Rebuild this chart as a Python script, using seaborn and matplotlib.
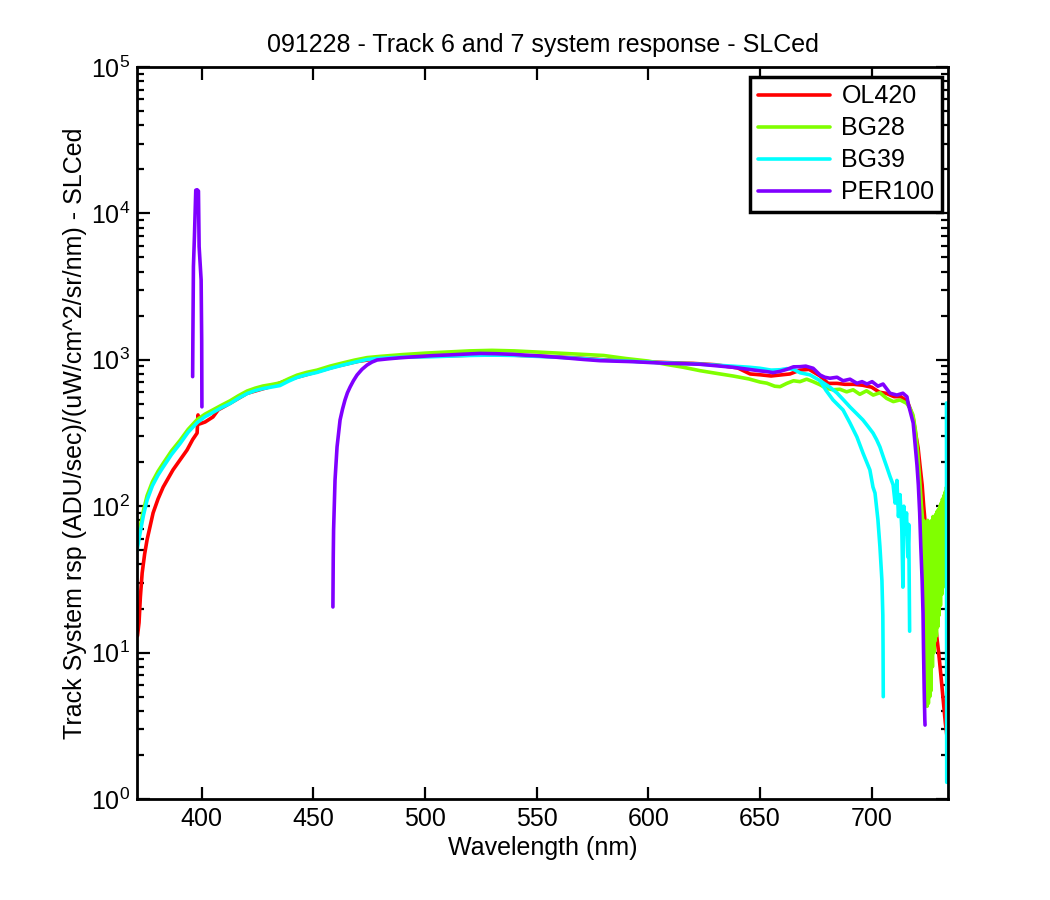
import pandas as pd
import matplotlib
matplotlib.use('Agg')
import matplotlib.pyplot as plt
import seaborn as sns

# values: wavelength (nm) and system response
filters = ['OL420', 'BG28', 'BG39', 'PER100']
colors = ['#ff0000', '#80ff00', '#00ffff', '#8000ff']

ol420_wl = [371.3, 372.0, 372.6, 373.4, 374.5, 375.6, 378.3, 380.5, 382.8, 387.2, 393.5, 396.0,
            398.0, 398.4, 399.2, 401.6, 405.1, 407.4, 412.8, 420.4, 430.0, 440.0, 450.0, 460.0,
            470.0, 480.0, 490.0, 500.0, 510.0, 520.0, 530.0, 540.0, 550.0, 560.0, 570.0, 580.0,
            590.0, 600.0, 610.0, 620.0, 630.0, 640.0, 645.6, 650.0, 655.0, 660.0, 663.4, 667.9,
            672.0, 676.9, 680.5, 684.5, 688.0, 692.0, 696.0, 700.0, 703.5, 706.5, 710.0, 713.0,
            716.0, 717.5, 718.6, 719.6, 720.8, 721.8, 722.6, 723.3, 724.2, 725.0, 725.7, 726.1,
            726.6, 727.5, 728.8, 730.0, 731.0, 732.0, 733.0, 734.1]
ol420_rsp = [13, 16, 24, 35, 47, 59, 90, 112, 135, 177, 242, 285,
             316, 420, 365, 376, 407, 454, 505, 590, 650, 740, 815, 900,
             975, 1025, 1045, 1055, 1065, 1075, 1080, 1075, 1060, 1045, 1025, 1000,
             985, 968, 955, 945, 925, 880, 800, 790, 775, 790, 800, 850,
             860, 775, 690, 690, 680, 680, 670, 650, 600, 590, 560, 560,
             520, 450, 400, 320, 250, 180, 140, 100, 70, 50, 40, 34,
             30, 21, 14.3, 10, 7, 4.8, 3.3, 2.4]

bg28_wl = [371.1, 372.5, 374.0, 375.6, 378.0, 380.5, 382.8, 386.5, 390.4, 394.0, 398.0, 401.5,
           405.1, 409.0, 412.8, 416.5, 420.4, 424.0, 427.5, 431.0, 435.1, 439.0, 442.7, 447.0,
           451.7, 457.5, 463.0, 468.5, 474.1, 480.0, 490.0, 500.0, 510.0, 520.0, 530.0, 540.0,
           550.0, 560.0, 570.0, 580.0, 590.0, 600.0, 608.0, 615.5, 623.1, 630.0, 637.9, 645.0,
           650.0, 653.1, 656.6, 659.0, 662.0, 665.0, 667.9, 670.9, 673.8, 676.9, 679.5, 682.7,
           685.8, 688.8, 691.7, 694.7, 697.7, 700.7, 703.7, 706.7, 709.7, 712.7, 715.6, 717.1,
           718.5, 719.6, 720.5, 721.4, 722.3, 722.7,
           723.0, 723.3, 723.6, 723.9, 724.2, 724.5, 724.8, 725.1, 725.4, 725.7, 726.0, 726.3,
           726.6, 726.9, 727.2, 727.5, 727.8, 728.1, 728.4, 728.7, 729.0, 729.3, 729.6, 729.9,
           730.2, 730.5, 730.8, 731.1, 731.4, 731.7, 732.0, 732.3, 732.6, 732.9, 733.2, 733.5,
           733.8, 734.1]
bg28_rsp = [55, 72, 94, 118, 147, 173, 196, 238, 282, 335, 390, 425,
            455, 490, 525, 568, 612, 640, 662, 676, 695, 742, 785, 820,
            850, 905, 950, 995, 1035, 1055, 1085, 1110, 1130, 1150, 1160, 1150,
            1130, 1110, 1090, 1070, 1020, 980, 930, 890, 843, 810, 775, 740,
            705, 692, 660, 655, 690, 719, 709, 737, 709, 675, 640, 624,
            629, 604, 624, 581, 614, 574, 596, 545, 518, 532, 505, 470,
            420, 330, 240, 160, 100, 85,
            45, 80, 15, 70, 9, 65, 4.3, 80, 4.5, 70, 5, 75,
            5.5, 80, 8, 85, 10, 80, 12, 88, 13, 92, 15, 95,
            18, 100, 21, 105, 25, 112, 28, 118, 31, 125, 40, 135,
            52, 150]

# BG39: main trace (track 6), second trace (track 7) and the last sample at the right edge
bg39_wl = [371.1, 372.5, 374.0, 375.6, 378.0, 380.5, 382.8, 386.5, 390.4, 394.0, 398.0, 401.5,
           405.1, 409.0, 412.8, 416.5, 420.4, 424.0, 427.5, 431.0, 435.1, 439.0, 442.7, 447.0,
           451.7, 457.5, 463.0, 468.5, 474.1, 480.0, 488.8, 496.0, 503.6, 512.0, 520.0, 527.0,
           533.6, 541.0, 550.0, 560.0, 570.0, 580.0, 590.0, 600.0, 610.0, 620.0, 630.0, 640.0,
           645.0, 650.0, 655.0, 659.0, 662.0, 665.0, 668.0, 672.3, 676.9, 679.5, 682.7, 687.2,
           690.3, 693.4, 696.1, 699.2, 700.6, 701.5, 702.8, 703.7, 704.6, 705.0, 705.1, 705.2]
bg39_rsp = [50, 66, 87, 110, 138, 163, 185, 225, 268, 320, 372, 408,
            437, 472, 503, 546, 588, 616, 636, 650, 667, 715, 757, 790,
            820, 873, 918, 962, 1005, 1025, 1040, 1045, 1050, 1060, 1070, 1075,
            1075, 1070, 1055, 1040, 1020, 995, 980, 963, 950, 940, 920, 900,
            890, 875, 850, 855, 870, 860, 815, 790, 720, 620, 532, 454,
            370, 297, 231, 177, 135, 123, 81, 53, 31, 18, 11, 5]
bg39b_wl = [676.9, 681.3, 684.5, 687.5, 690.3, 693.2, 696.1, 698.4, 700.6, 702.2, 703.7, 705.3,
            706.8, 708.2, 709.6, 710.5, 711.3, 712.0, 712.7, 713.5, 714.0, 714.4, 715.0, 715.6,
            716.2, 716.6, 717.0]
bg39b_rsp = [720, 650, 593, 530, 476, 430, 388, 350, 316, 285, 254, 215,
             185, 160, 140, 105, 150, 85, 120, 70, 28, 100, 65, 90,
             45, 75, 14]
bg39c_wl = [733.5, 733.6]
bg39c_rsp = [507, 1.3]

# PER100: short spike near 398 nm, then the main trace from 459 nm
per100a_wl = [396.0, 396.1, 396.35, 396.8, 397.4, 398.0, 398.6, 398.9, 399.8, 400.05, 400.15]
per100a_rsp = [767, 1365, 4330, 6930, 14400, 14500, 14200, 5930, 3510, 1365, 477]
per100_wl = [458.8, 458.95, 459.1, 459.75, 460.65, 462.0, 463.1, 464.2, 465.3, 466.5, 468.0, 469.6,
             471.8, 474.1, 476.3, 478.6, 483.5, 488.8, 496.0, 503.6, 511.0, 518.8, 524.7, 532.0,
             539.4, 545.0, 551.5, 557.5, 563.6, 571.0, 578.4, 586.0, 593.1, 600.5, 608.4, 615.5,
             623.1, 630.5, 637.9, 645.0, 650.0, 653.1, 655.8, 658.9, 662.1, 665.0, 667.9, 670.5,
             673.8, 676.9, 679.0, 681.3, 684.5, 687.2, 690.3, 693.4, 695.7, 697.9, 700.2, 702.8,
             705.1, 708.2, 711.3, 714.0, 715.8, 716.3, 717.1, 718.6, 719.4, 720.3, 720.9, 721.5,
             722.0, 722.6, 723.0, 723.2, 723.5, 723.8, 723.9]
per100_rsp = [20.5, 45, 68.8, 151, 254, 388, 460, 531, 595, 652, 720, 787,
              860, 921, 965, 997, 1015, 1032, 1050, 1068, 1080, 1095, 1105, 1100,
              1090, 1075, 1062, 1045, 1028, 1005, 986, 978, 971, 958, 946, 940,
              932, 910, 889, 860, 840, 830, 817, 833, 861, 895, 897, 905,
              875, 787, 760, 748, 760, 719, 737, 691, 709, 683, 709, 660,
              683, 591, 574, 591, 559, 505, 454, 370, 270, 190, 140, 90,
              53, 31, 18.6, 10.9, 5.8, 3.5, 3.2]

segments = [
    ('OL420', 'a', ol420_wl, ol420_rsp),
    ('BG28', 'a', bg28_wl, bg28_rsp),
    ('BG39', 'a', bg39_wl, bg39_rsp),
    ('BG39', 'b', bg39b_wl, bg39b_rsp),
    ('BG39', 'c', bg39c_wl, bg39c_rsp),
    ('PER100', 'a', per100a_wl, per100a_rsp),
    ('PER100', 'b', per100_wl, per100_rsp),
]
frames = []
for name, seg, wl, rsp in segments:
    frames.append(pd.DataFrame({'filter': name, 'seg': name + seg, 'wl': wl, 'rsp': rsp}))
df = pd.concat(frames, ignore_index=True)

sns.set_theme(style='ticks')
plt.rcParams['font.family'] = ['Liberation Sans', 'DejaVu Sans']
plt.rcParams['axes.linewidth'] = 2.0
plt.rcParams['text.color'] = 'black'
plt.rcParams['axes.labelcolor'] = 'black'

fig = plt.figure(figsize=(10.5, 9), dpi=100)
fig.patch.set_facecolor('white')
ax = fig.add_axes([0.1305, 0.1122, 0.7724, 0.8134])
ax.set_yscale('log')

sns.lineplot(data=df, x='wl', y='rsp', hue='filter', hue_order=filters,
             palette=colors, units='seg', estimator=None, sort=False,
             lw=2.6, ax=ax)

ax.set_xlim(371.1, 734.2)
ax.set_ylim(1, 1e5)
ax.set_xticks([400, 450, 500, 550, 600, 650, 700])
ax.tick_params(which='both', direction='in', top=True, right=True, width=1.6,
               labelsize=18, colors='black')
ax.tick_params(which='major', length=9)
ax.tick_params(which='minor', length=5)
ax.tick_params(axis='x', pad=6)
ax.tick_params(axis='y', pad=5)
for s in ax.spines.values():
    s.set_linewidth(2.0)
    s.set_color('black')

ax.set_xlabel('Wavelength (nm)', fontsize=18, labelpad=3, color='black')
ax.set_ylabel('Track System rsp (ADU/sec)/(uW/cm^2/sr/nm) - SLCed', fontsize=18,
              labelpad=3, color='black')
ax.set_title('091228 - Track 6 and 7 system response - SLCed', fontsize=18, pad=11,
             color='black')

handles, labels = ax.get_legend_handles_labels()
leg = ax.legend(handles, labels, loc='upper right', bbox_to_anchor=(0.9926, 0.9863),
                borderaxespad=0, fontsize=18, frameon=True, fancybox=False,
                edgecolor='black', framealpha=1, handlelength=2.9,
                handletextpad=0.45, borderpad=0.3, labelspacing=0.32)
leg.get_frame().set_linewidth(2.5)
for t in leg.get_texts():
    t.set_color('black')

plt.savefig('out.png', dpi=100, facecolor='white')
